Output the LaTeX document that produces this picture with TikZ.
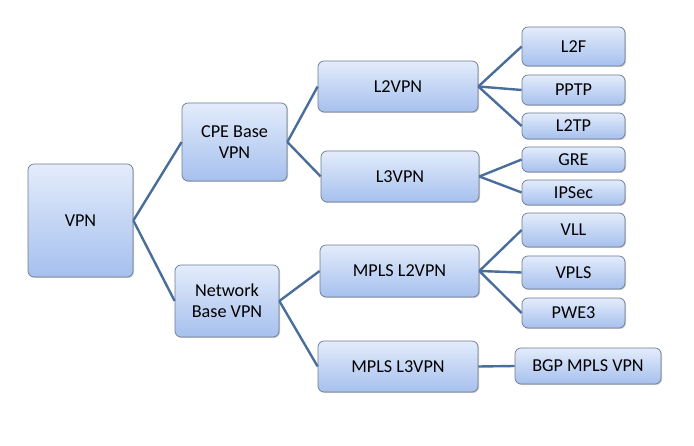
\documentclass[tikz,border=0pt]{standalone}
\usepackage{fontspec}
\setmainfont{Carlito}
\usetikzlibrary{shadows}
\definecolor{boxtop}{HTML}{E3ECFB}
\definecolor{boxbot}{HTML}{A6C0EE}
\definecolor{boxline}{HTML}{6E7C90}
\definecolor{link}{HTML}{4A6E9C}
\begin{document}
\begin{tikzpicture}[x=1pt,y=1pt,
  box/.style={draw=boxline,line width=0.7pt,rounded corners=6pt,top color=boxtop,bottom color=boxbot,
    align=center,inner sep=0pt,font=\fontsize{18.2}{21}\selectfont,
    drop shadow={shadow xshift=1pt,shadow yshift=-1pt,fill=black,opacity=0.2}},
  link/.style={draw=link,line width=2.4pt}]
\useasboundingbox (0,0) rectangle (694,445);
\node[box,minimum width=105pt,minimum height=113pt] (vpn) at (80.5,224.5) {VPN};
\node[box,minimum width=105pt,minimum height=78pt] (cpe) at (234.5,303) {CPE Base\\VPN};
\node[box,minimum width=104pt,minimum height=72pt] (net) at (227,144) {Network\\Base VPN};
\node[box,minimum width=160pt,minimum height=51pt] (l2vpn) at (398,358.5) {L2VPN};
\node[box,minimum width=158pt,minimum height=51pt] (l3vpn) at (400,268.5) {L3VPN};
\node[box,minimum width=159pt,minimum height=52pt] (ml2) at (399.5,174) {MPLS L2VPN};
\node[box,minimum width=160pt,minimum height=51pt] (ml3) at (398,78.5) {MPLS L3VPN};
\node[box,minimum width=103pt,minimum height=39pt] (l2f) at (573.5,398.5) {L2F};
\node[box,minimum width=103pt,minimum height=30pt] (pptp) at (573.5,355) {PPTP};
\node[box,minimum width=103pt,minimum height=26pt] (l2tp) at (573.5,319) {L2TP};
\node[box,minimum width=103pt,minimum height=25pt] (gre) at (573.5,285.5) {GRE};
\node[box,minimum width=103pt,minimum height=25pt] (ipsec) at (573.5,252.5) {IPSec};
\node[box,minimum width=103pt,minimum height=34pt] (vll) at (573.5,215) {VLL};
\node[box,minimum width=103pt,minimum height=33pt] (vpls) at (573.5,172.5) {VPLS};
\node[box,minimum width=103pt,minimum height=30pt] (pwe3) at (573.5,132) {PWE3};
\node[box,minimum width=146pt,minimum height=36pt] (bgp) at (588,79) {BGP MPLS VPN};
\foreach \a/\b in {vpn/cpe,vpn/net,cpe/l2vpn,cpe/l3vpn,net/ml2,net/ml3,
  l2vpn/l2f,l2vpn/pptp,l2vpn/l2tp,l3vpn/gre,l3vpn/ipsec,ml2/vll,ml2/vpls,ml2/pwe3,ml3/bgp}
  \draw[link] (\a.east) -- (\b.west);
\end{tikzpicture}
\end{document}
